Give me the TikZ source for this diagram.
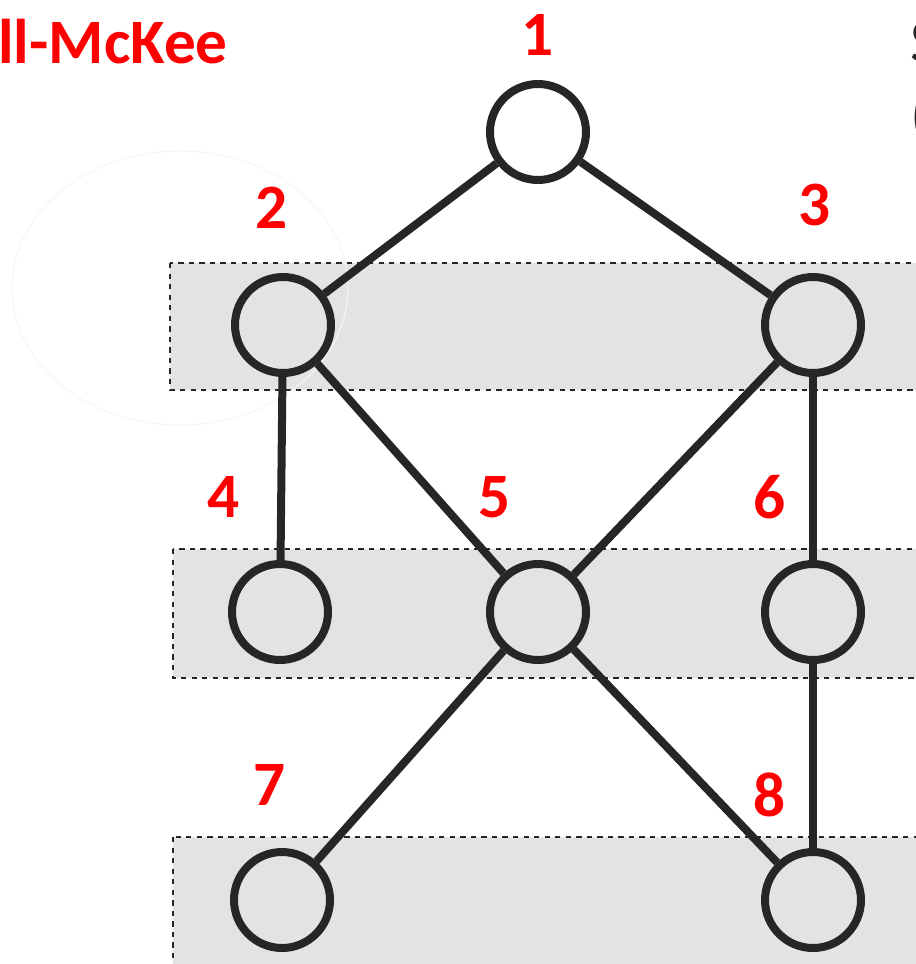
\documentclass[tikz,border=0pt]{standalone}
\usepackage{fontspec}
\setmainfont{Carlito}
\usepackage{tikz}

\definecolor{numred}{RGB}{255,0,0}
\definecolor{edgegray}{RGB}{38,38,38}
\definecolor{levelgray}{RGB}{227,227,227}

\tikzset{
  vert/.style={circle,draw=edgegray,line width=0.16cm,minimum size=1.92cm,inner sep=0pt},
  num/.style={text=numred,font=\fontsize{36}{40}\selectfont\bfseries,inner sep=0pt},
  level/.style={fill=levelgray,draw=edgegray,dashed,line width=0.7pt},
  link/.style={draw=edgegray,line width=0.16cm}
}

\begin{document}
\begin{tikzpicture}[x=0.02cm,y=-0.02cm]
		\useasboundingbox (0,0) rectangle (916,964);
		\clip (0,0) rectangle (916,964);
		% level bands
		\draw[level] (170,263) rectangle (930,390);
		\draw[level] (173,549) rectangle (930,678);
		\draw[level] (173,837) rectangle (930,980);
		\draw[gray!8,line width=0.6pt] (180,288) ellipse (168 and 137);
		% titles
		\node[num,anchor=west] (title) at (-2,42) {ll-McKee};
		\node[anchor=west,inner sep=0pt,text=edgegray,font=\fontsize{36}{40}\selectfont] (sidetop) at (910,42) {S};
		\node[anchor=west,inner sep=0pt,text=edgegray,font=\fontsize{36}{40}\selectfont] (sidebot) at (910,118) {(};
		% vertices
		\node[vert] (v1) at (538,132) {};
		\node[vert] (v2) at (283,325) {};
		\node[vert] (v3) at (813,325) {};
		\node[vert] (v4) at (280,612) {};
		\node[vert] (v5) at (538,612) {};
		\node[vert] (v6) at (813,612) {};
		\node[vert] (v7) at (282,900) {};
		\node[vert] (v8) at (813,900) {};
		% numbering
		\node[num] (l1) at (538,35) {1};
		\node[num] (l2) at (272,208) {2};
		\node[num] (l3) at (815,205) {3};
		\node[num] (l4) at (224,497) {4};
		\node[num] (l5) at (495,497) {5};
		\node[num] (l6) at (770,497) {6};
		\node[num] (l7) at (270,785) {7};
		\node[num] (l8) at (770,795) {8};
		% edges
		\draw[link] (v1) -- (v2);
		\draw[link] (v1) -- (v3);
		\draw[link] (v2) -- (v4);
		\draw[link] (v2) -- (v5);
		\draw[link] (v3) -- (v5);
		\draw[link] (v3) -- (v6);
		\draw[link] (v5) -- (v7);
		\draw[link] (v5) -- (v8);
		\draw[link] (v6) -- (v8);
	\end{tikzpicture}
\end{document}
